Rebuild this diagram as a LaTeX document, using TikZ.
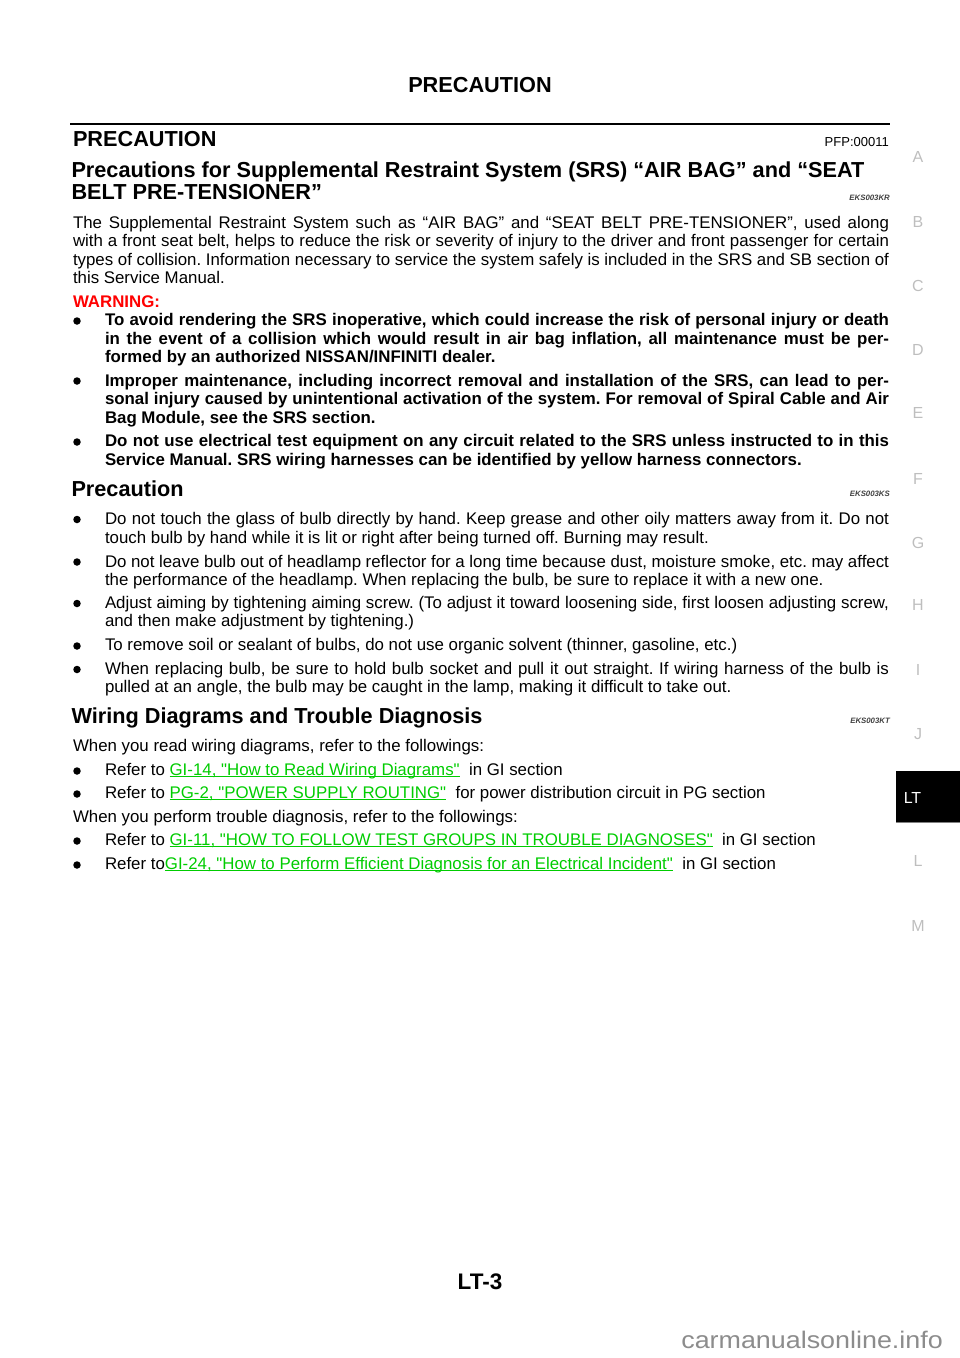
\documentclass[tikz,border=0pt]{standalone}
\usepackage{fontspec}
\setmainfont{Liberation Sans}[Ligatures=TeXOff]
\definecolor{warnred}{RGB}{255,0,0}
\definecolor{linkgreen}{RGB}{0,204,0}
\definecolor{sidegray}{RGB}{190,190,190}
\definecolor{markgray}{RGB}{140,140,140}
\frenchspacing
\newcommand{\fl}[1]{\makebox[816pt][s]{#1}}
\newcommand{\fb}[1]{\makebox[784pt][s]{#1}}
\newsavebox{\lnkbox}
\newcommand{\lnk}[1]{\sbox{\lnkbox}{\textcolor{linkgreen}{#1}}{\color{linkgreen}\rule[-2.2pt]{\wd\lnkbox}{.8pt}}\hspace{-\wd\lnkbox}\usebox{\lnkbox}}
\tikzset{
	txt/.style={anchor=base west, inner sep=0pt, outer sep=0pt},
	body/.style={txt, font=\fontsize{16.85}{18}\selectfont},
	bold/.style={txt, font=\fontsize{16.85}{18}\selectfont\bfseries},
	head/.style={txt, font=\fontsize{21.7}{26}\selectfont\bfseries},
	tag/.style={anchor=base east, inner sep=0pt, font=\fontsize{7.8}{10}\selectfont\bfseries\itshape, text=black!75},
	dot/.style={circle, fill, inner sep=0pt, minimum size=7.5pt},
	side/.style={inner sep=0pt, text=sidegray, font=\fontsize{16}{18}\selectfont}
}
\begin{document}
\begin{tikzpicture}[x=1pt,y=-1pt]
	\path [use as bounding box] (0,0) rectangle (960,1358);
	\node[anchor=base, inner sep=0pt, font=\fontsize{21.7}{26}\selectfont\bfseries] (top) at (480,92.5) {PRECAUTION};
	\coordinate (ruleL) at (70,124);
	\coordinate (ruleR) at (890,124);
	\draw[line width=2.4pt] (ruleL) -- (ruleR);
	\node[head] (title) at (73,146) {PRECAUTION};
	\node[anchor=base east, inner sep=0pt, font=\fontsize{13}{15}\selectfont] (pfp) at (889,146.3) {PFP:00011};
	\node[head] (h1a) at (71.5,177) {Precautions for Supplemental Restraint System (SRS) “AIR BAG” and “SEAT};
	\node[head] (h1b) at (71.5,199) {BELT PRE-TENSIONER”};
	\node[tag] (t1) at (890,200) {EKS003KR};
	\node[body] (p1) at (73,228) {\fl{The Supplemental Restraint System such as “AIR BAG” and “SEAT BELT PRE-TENSIONER”, used along}};
	\node[body] (p2) at (73,246.5) {\fl{with a front seat belt, helps to reduce the risk or severity of injury to the driver and front passenger for certain}};
	\node[body] (p3) at (73,265) {\fl{types of collision. Information necessary to service the system safely is included in the SRS and SB section of}};
	\node[body] (p4) at (73,283.5) {this Service Manual.};
	\node[bold, text=warnred] (warn) at (73,307) {WARNING:};
	\node[bold] (w1) at (105,325.5) {\fb{To avoid rendering the SRS inoperative, which could increase the risk of personal injury or death}};
	\node[bold] (w2) at (105,344) {\fb{in the event of a collision which would result in air bag inflation, all maintenance must be per-}};
	\node[bold] (w3) at (105,362.5) {formed by an authorized NISSAN/INFINITI dealer.};
	\node[bold] (w4) at (105,386) {\fb{Improper maintenance, including incorrect removal and installation of the SRS, can lead to per-}};
	\node[bold] (w5) at (105,404.5) {\fb{sonal injury caused by unintentional activation of the system. For removal of Spiral Cable and Air}};
	\node[bold] (w6) at (105,423) {Bag Module, see the SRS section.};
	\node[bold] (w7) at (105,446.5) {\fb{Do not use electrical test equipment on any circuit related to the SRS unless instructed to in this}};
	\node[bold] (w8) at (105,465) {Service Manual. SRS wiring harnesses can be identified by yellow harness connectors.};
	\node[head] (h2) at (71.5,496) {Precaution};
	\node[tag] (t2) at (890,496) {EKS003KS};
	\node[body] (a1) at (105,524.5) {\fb{Do not touch the glass of bulb directly by hand. Keep grease and other oily matters away from it. Do not}};
	\node[body] (a2) at (105,543) {touch bulb by hand while it is lit or right after being turned off. Burning may result.};
	\node[body] (a3) at (105,567) {\fb{Do not leave bulb out of headlamp reflector for a long time because dust, moisture smoke, etc. may affect}};
	\node[body] (a4) at (105,585.5) {the performance of the headlamp. When replacing the bulb, be sure to replace it with a new one.};
	\node[body] (a5) at (105,608) {\fb{Adjust aiming by tightening aiming screw. (To adjust it toward loosening side, first loosen adjusting screw,}};
	\node[body] (a6) at (105,626.5) {and then make adjustment by tightening.)};
	\node[body] (a7) at (105,650.5) {To remove soil or sealant of bulbs, do not use organic solvent (thinner, gasoline, etc.)};
	\node[body] (a8) at (105,674) {\fb{When replacing bulb, be sure to hold bulb socket and pull it out straight. If wiring harness of the bulb is}};
	\node[body] (a9) at (105,692.5) {pulled at an angle, the bulb may be caught in the lamp, making it difficult to take out.};
	\node[head] (h3) at (71.5,723) {Wiring Diagrams and Trouble Diagnosis};
	\node[tag] (t3) at (890,723) {EKS003KT};
	\node[body] (r0) at (73,751) {When you read wiring diagrams, refer to the followings:};
	\node[body] (r1) at (105,775) {Refer to \lnk{GI-14, "How to Read Wiring Diagrams"}\ \ in GI section};
	\node[body] (r2) at (105,798) {Refer to \lnk{PG-2, "POWER SUPPLY ROUTING"}\ \ for power distribution circuit in PG section};
	\node[body] (r3) at (73,822) {When you perform trouble diagnosis, refer to the followings:};
	\node[body] (r4) at (105,845) {Refer to \lnk{GI-11, "HOW TO FOLLOW TEST GROUPS IN TROUBLE DIAGNOSES"}\ \ in GI section};
	\node[body] (r5) at (105,869) {Refer to\lnk{GI-24, "How to Perform Efficient Diagnosis for an Electrical Incident"}\ \ in GI section};
	\foreach \n/\y in {b1/321,b2/381,b3/442,b4/519.5,b5/562,b6/603.5,b7/646,b8/669.5,b9/771,b10/794,b11/841,b12/865}
		\node[dot] (\n) at (77,\y) {};
	\foreach \l/\y in {A/157,B/222,C/286,D/350,E/413,F/479,G/543,H/605,I/670,J/734,L/861,M/926}
		\node[side] (s\l) at (918,\y) {\l};
	\node[anchor=north west, fill=black, minimum width=64pt, minimum height=51pt, inner sep=0pt] (tab) at (896,771) {};
	\draw[gray] (tab.south west) -- (tab.south east);
	\node[inner sep=0pt, text=white, font=\fontsize{16}{18}\selectfont] (tabtxt) at (912.5,798) {LT};
	\node[anchor=base, inner sep=0pt, font=\fontsize{22.5}{25}\selectfont\bfseries] (pg) at (480,1289) {LT-3};
	\node[anchor=base east, inner sep=0pt, text=markgray, font=\fontsize{24}{26}\selectfont] (mark) at (943,1348) {\scalebox{1.12}[1]{carmanualsonline.info}};
\end{tikzpicture}
\end{document}
